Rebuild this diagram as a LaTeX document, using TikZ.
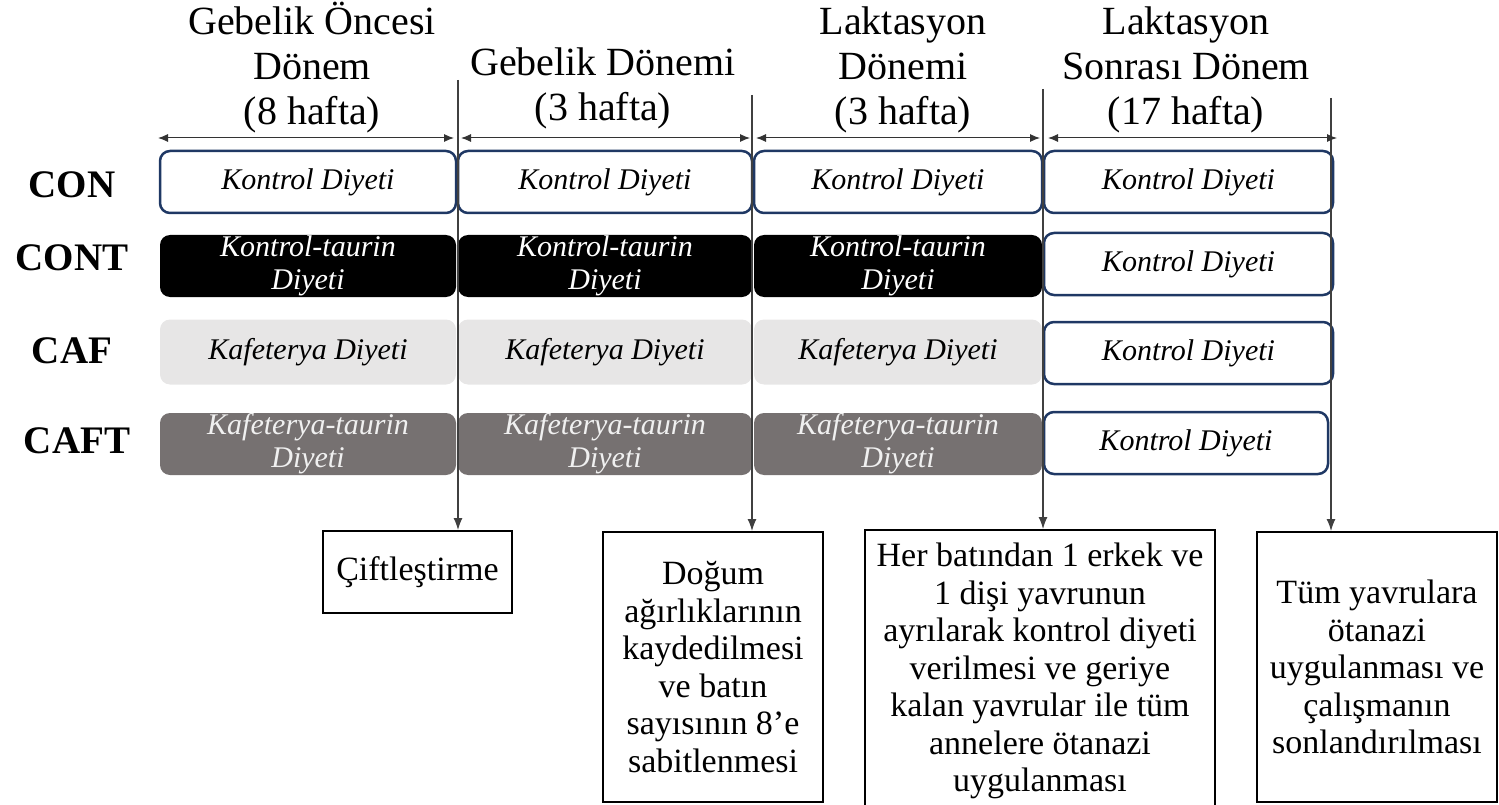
\documentclass[tikz,border=0pt]{standalone}
\usepackage{fontspec}
\setmainfont{Liberation Serif}
\usepackage{xcolor}
\usetikzlibrary{arrows.meta}
\definecolor{dietnavy}{HTML}{1F3864}
\definecolor{caflight}{HTML}{E7E6E6}
\definecolor{cafdark}{HTML}{767171}

\begin{document}
\begin{tikzpicture}[x=1pt, y=-1pt,
  period/.style={font=\fontsize{40}{45}\selectfont, align=center, anchor=south, inner sep=0pt},
  group/.style={font=\fontsize{39}{42}\selectfont\bfseries, inner sep=0pt},
  diet/.style={rectangle, rounded corners=10pt, minimum height=62pt, inner sep=0pt, align=center, font=\fontsize{30}{33}\selectfont\itshape},
  con/.style={diet, draw=dietnavy, line width=2.5pt, fill=white},
  cont/.style={diet, fill=black, text=white},
  caf/.style={diet, fill=caflight},
  caft/.style={diet, fill=cafdark, text=white!94!black},
  event/.style={draw=black, line width=2pt, align=center, inner sep=0pt, font=\fontsize{34}{37.5}\selectfont},
  span/.style={black!80, line width=1pt, {Latex[length=10pt,width=8pt]}-{Latex[length=10pt,width=8pt]}},
  drop/.style={black!75, line width=1.2pt, -{Latex[length=12pt,width=9pt]}}]
  \useasboundingbox (0,0) rectangle (1499,805);

  % period headings
  \node[period] (h1) at (312,133) {Gebelik Öncesi\\Dönem\\(8 hafta)};
  \node[period] (h2) at (603,129) {Gebelik Dönemi\\(3 hafta)};
  \node[period] (h3) at (903,133) {Laktasyon\\Dönemi\\(3 hafta)};
  \node[period] (h4) at (1186,133) {Laktasyon\\Sonrası Dönem\\(17 hafta)};

  % groups
  \node[group] (gcon) at (72,185) {CON};
  \node[group] (gcont) at (72,258) {CONT};
  \node[group] (gcaf) at (72,351) {CAF};
  \node[group] (gcaft) at (77,441) {CAFT};

  % diets
  \node[con, minimum width=296pt] (con1) at (308,182) {Kontrol Diyeti};
  \node[con, minimum width=294pt] (con2) at (605,182) {Kontrol Diyeti};
  \node[con, minimum width=288pt] (con3) at (898,182) {Kontrol Diyeti};
  \node[con, minimum width=289pt] (con4) at (1188.5,182) {Kontrol Diyeti};
  \node[cont, minimum width=296pt] (cont1) at (308,266) {Kontrol-taurin\\Diyeti};
  \node[cont, minimum width=294pt] (cont2) at (605,266) {Kontrol-taurin\\Diyeti};
  \node[cont, minimum width=288pt] (cont3) at (898,266) {Kontrol-taurin\\Diyeti};
  \node[con, minimum width=289pt] (cont4) at (1188.5,264) {Kontrol Diyeti};
  \node[caf, minimum width=296pt, minimum height=65pt] (caf1) at (308,352) {Kafeterya Diyeti};
  \node[caf, minimum width=294pt, minimum height=65pt] (caf2) at (605,352) {Kafeterya Diyeti};
  \node[caf, minimum width=288pt, minimum height=65pt] (caf3) at (898,352) {Kafeterya Diyeti};
  \node[con, minimum width=289pt] (caf4) at (1188.5,353) {Kontrol Diyeti};
  \node[caft, minimum width=296pt] (caft1) at (308,444) {Kafeterya-taurin\\Diyeti};
  \node[caft, minimum width=294pt] (caft2) at (605,444) {Kafeterya-taurin\\Diyeti};
  \node[caft, minimum width=288pt] (caft3) at (898,444) {Kafeterya-taurin\\Diyeti};
  \node[con, minimum width=284pt] (caft4) at (1186,443) {Kontrol Diyeti};

  % events
  \node[event, minimum width=189pt, minimum height=82pt] (cift) at (417.5,572) {Çiftleştirme};
  \node[event, minimum width=220pt, minimum height=270pt] (dogum) at (713,667) {Doğum\\ağırlıklarının\\kaydedilmesi\\ve batın\\sayısının 8’e\\sabitlenmesi};
  \node[event, minimum width=350pt, minimum height=282pt] (ayir) at (1040,671) {Her batından 1 erkek ve\\1 dişi yavrunun\\ayrılarak kontrol diyeti\\verilmesi ve geriye\\kalan yavrular ile tüm\\annelere ötanazi\\uygulanması};
  \node[event, minimum width=240pt, minimum height=270pt] (son) at (1377,667) {Tüm yavrulara\\ötanazi\\uygulanması ve\\çalışmanın\\sonlandırılması};

  % time marks
  \coordinate (top1) at (458,80);
  \coordinate (top2) at (752,95);
  \coordinate (top3) at (1043,89);
  \coordinate (top4) at (1331,98);
  \draw[drop] (top1) -- (top1 |- cift.north);
  \draw[drop] (top2) -- (top2 |- dogum.north);
  \draw[drop] (top3) -- (top3 |- ayir.north);
  \draw[drop] (top4) -- (top4 |- son.north);

  % spans
  \coordinate (w0) at (158,138);
  \coordinate (w1) at (458,138);
  \coordinate (w2) at (752,138);
  \coordinate (w3) at (1043,138);
  \coordinate (w4) at (1337,138);
  \draw[span] (w0) -- ([xshift=-4pt]w1);
  \draw[span] ([xshift=3pt]w1) -- ([xshift=-2pt]w2);
  \draw[span] ([xshift=4pt]w2) -- ([xshift=-3pt]w3);
  \draw[span] ([xshift=5pt]w3) -- (w4);
\end{tikzpicture}
\end{document}
